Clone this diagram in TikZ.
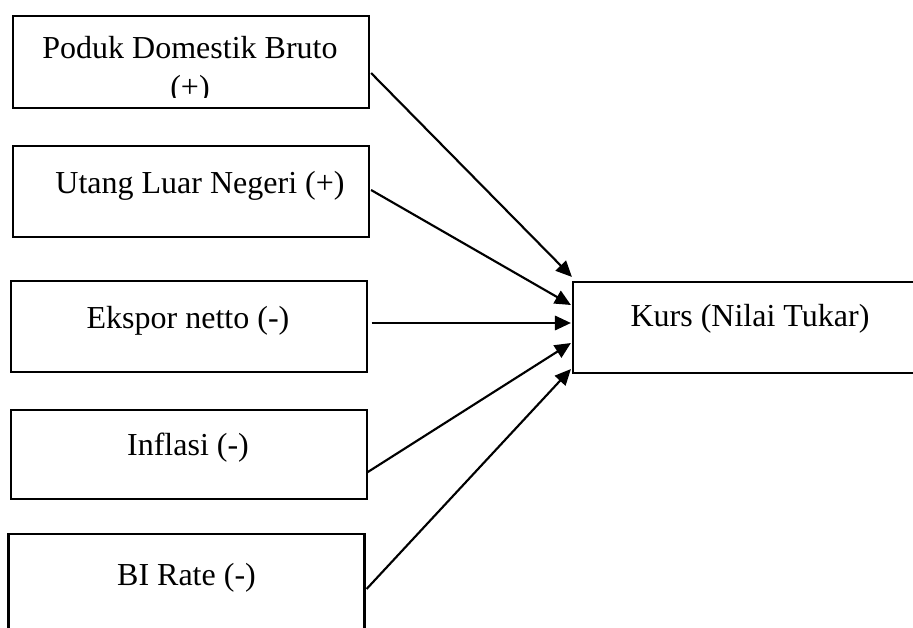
\documentclass[tikz,border=0pt]{standalone}
\usepackage{fontspec}
\setmainfont{Liberation Serif}
\usetikzlibrary{arrows.meta,positioning,calc}

\begin{document}
\begin{tikzpicture}[x=0.375pt,y=-0.375pt,
  box/.style={rectangle,draw,line width=0.8pt,minimum width=356*0.375pt,
    minimum height=#1*0.375pt,inner sep=0pt},
  box/.default=91,
  txt/.style={align=center,inner sep=0pt,font=\fontsize{12pt}{14.6pt}\selectfont},
  arr/.style={-{Triangle[length=6pt,width=5.4pt]},line width=0.8pt}
]
\clip (0,0) rectangle (913,628);

% Determinants
\node[box=92]  (pdb)  at (191,62)    {};
\node[box]     (uln)  at (191,191.5) {};
\node[box]     (ekn)  at (189,326.5) {};
\node[box=89]  (inf)  at (189,454.5) {};
\node[box=100] (bir)  at (186.5,584) {};

\begin{scope}
  \clip (pdb.north west) rectangle ($(pdb.south east)+(0,-12)$);
  \node[txt] (pdbt) at ($(pdb.north)+(-1,55)$) {Poduk Domestik Bruto\\(+)};
\end{scope}
\node[txt] (ulnt) at ($(uln.north)+(9,41)$)  {Utang Luar Negeri (+)};
\node[txt] (eknt) at ($(ekn.north)+(-1,41)$) {Ekspor netto (-)};
\node[txt] (inft) at ($(inf.north)+(-1,39)$) {Inflasi (-)};
\node[txt] (birt) at ($(bir.north)+(0,45)$)  {BI Rate (-)};

% Exchange rate
\node[box] (kurs) at (751,327.5) {};
\node[txt] (kurst) at ($(kurs.north)+(-1,38)$) {Kurs (Nilai Tukar)};

\draw[arr] ($(pdb.east)+(1,11)$)   -- ($(kurs.north west)+(0,-4)$);
\draw[arr] ($(uln.east)+(1,-1.5)$) -- ($(kurs.west)+(-1,-22.5)$);
\draw[arr] ($(ekn.east)+(3.5,-3.5)$) -- ($(kurs.west)+(-1,-4.5)$);
\draw[arr] ($(inf.east)+(-1,18)$)  -- ($(kurs.west)+(-1,15.5)$);
\draw[arr] ($(bir.east)+(1,5)$)    -- ($(kurs.south west)+(-1,-5)$);
\end{tikzpicture}
\end{document}
